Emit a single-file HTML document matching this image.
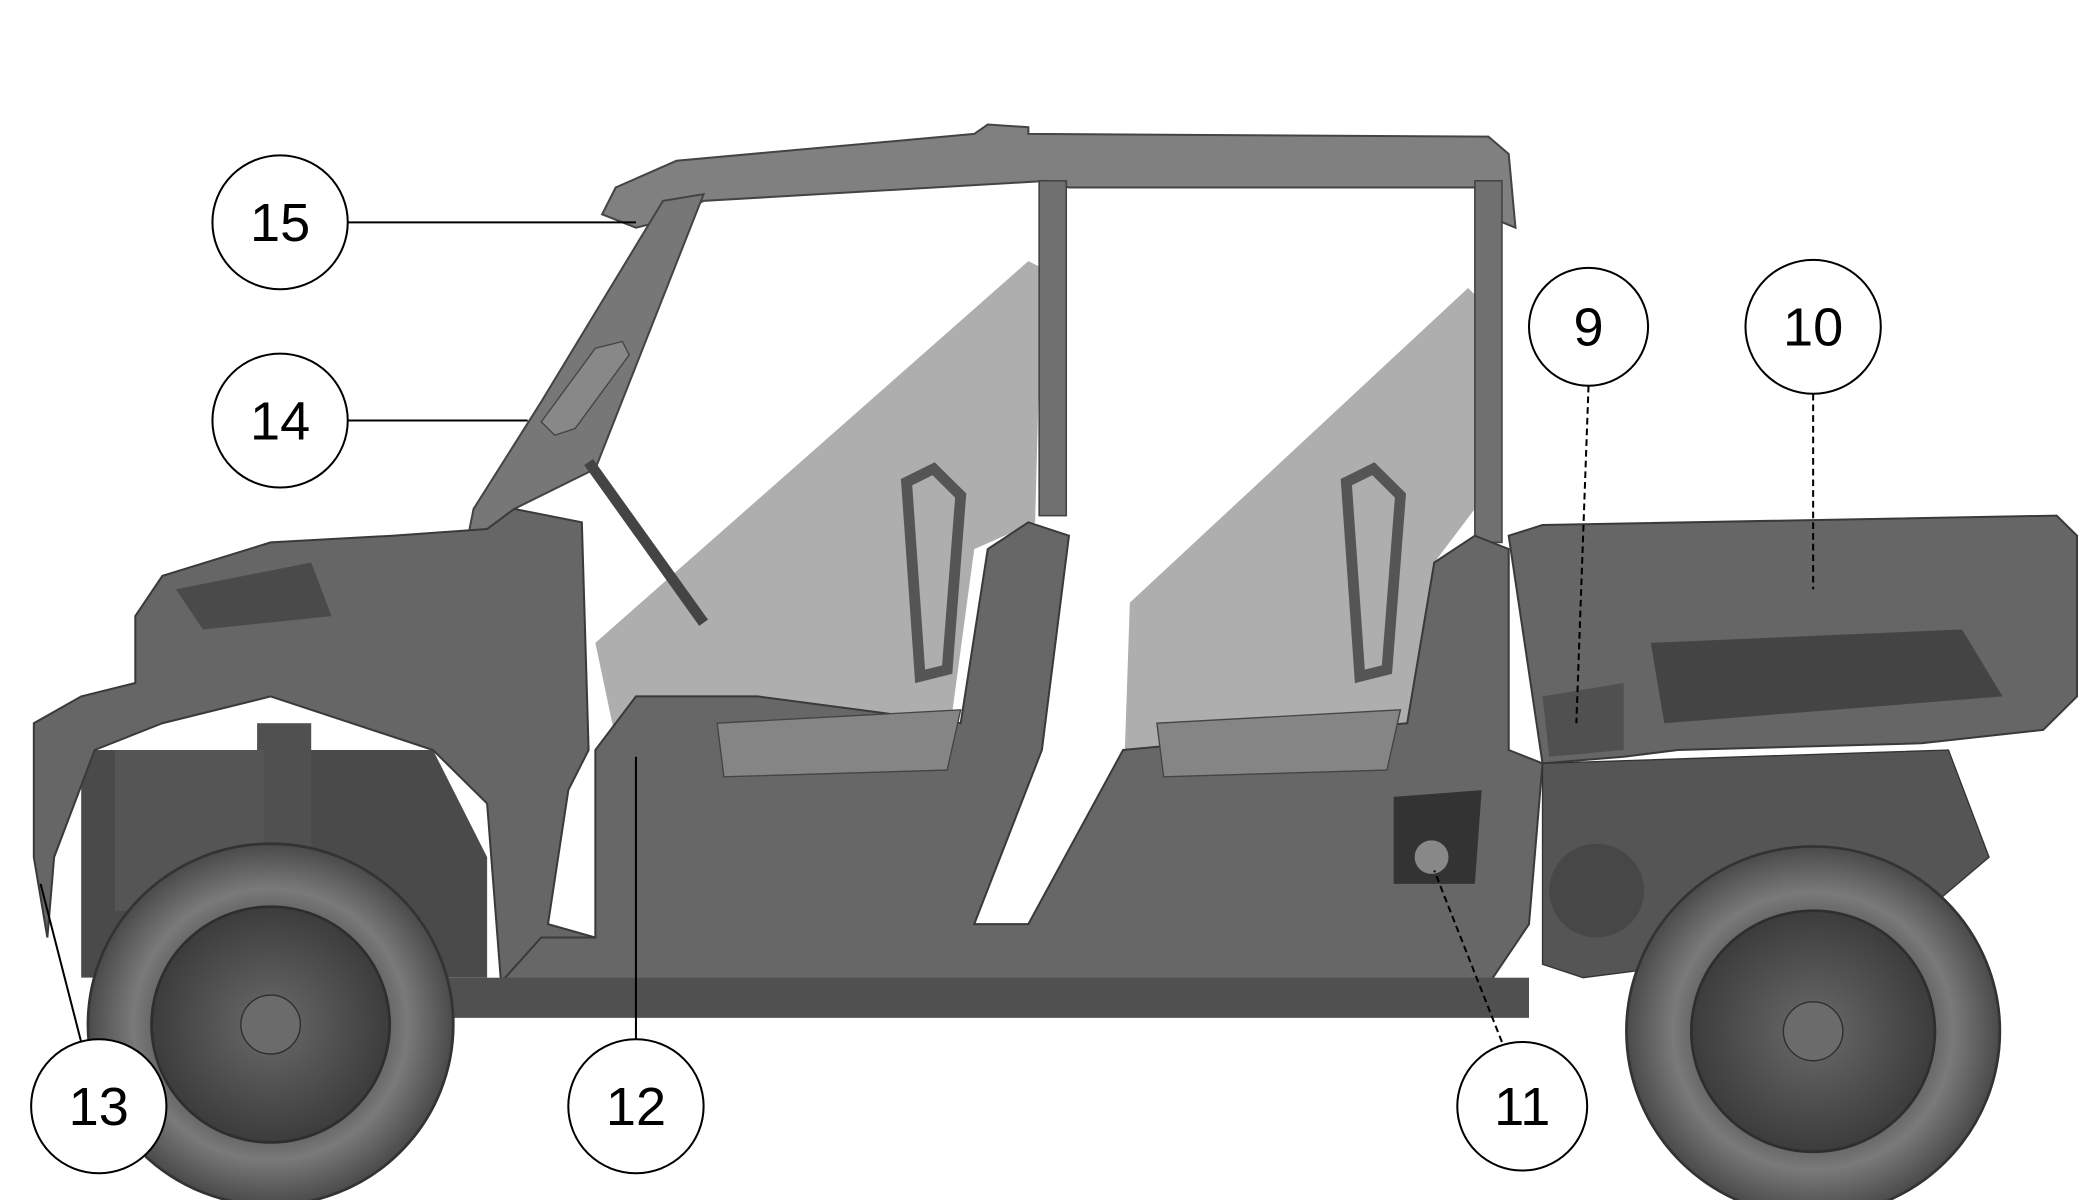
<!DOCTYPE html>
<html><head><meta charset="utf-8"><style>
html,body{margin:0;padding:0;background:#fff;width:2100px;height:1200px;overflow:hidden}
svg{display:block}
text{font-family:"Liberation Sans",sans-serif;font-size:40px;text-anchor:middle;fill:#000}
</style></head><body>
<svg width="2100" height="1200" viewBox="0 0 1552 896" preserveAspectRatio="none">
<defs>
<radialGradient id="tire" cx="50%" cy="50%" r="50%"><stop offset="0.55" stop-color="#555"/><stop offset="0.75" stop-color="#7a7a7a"/><stop offset="1" stop-color="#4a4a4a"/></radialGradient>
<radialGradient id="rim" cx="50%" cy="50%" r="50%"><stop offset="0" stop-color="#6a6a6a"/><stop offset="1" stop-color="#3c3c3c"/></radialGradient>
</defs>
<polygon points="440,480 760,195 770,200 765,390 720,410 700,560 465,600" fill="#9a9a9a" opacity="0.8"/>
<polygon points="835,450 1085,215 1095,225 1090,380 1060,420 1040,560 830,600" fill="#9a9a9a" opacity="0.8"/>
<path d="M445,160 L455,140 L500,120 L720,100 L730,93 L760,95 L760,100 L1100,102 L1115,115 L1120,170 L1108,165 L1100,140 L790,140 L775,135 L520,150 L490,165 L470,170 Z" fill="#808080" stroke="#444" stroke-width="1.5"/>
<path d="M490,150 L520,145 L440,350 L380,380 L365,410 L345,405 L350,380 L400,300 Z" fill="#777" stroke="#444" stroke-width="1.5"/>
<rect x="768" y="135" width="20" height="250" fill="#707070" stroke="#444" stroke-width="1.2"/>
<rect x="1090" y="135" width="20" height="270" fill="#707070" stroke="#444" stroke-width="1.2"/>
<path d="M400,315 L440,260 L460,255 L465,265 L425,320 L410,325 Z" fill="#888" stroke="#444"/>
<!-- wheel wells dark -->
<path d="M60,560 L320,560 L360,640 L360,730 L60,730 Z" fill="#4a4a4a"/>
<path d="M100,460 L120,430 L200,405 L290,400 L360,395 L380,380 L430,390 L435,560 L420,590 L405,690 L440,700 L440,740 L395,745 L370,730 L360,600 L320,560 L200,520 L120,540 L70,560 L40,640 L35,700 L25,640 L25,540 L60,520 L100,510 Z" fill="#666" stroke="#3a3a3a" stroke-width="1.5"/>
<path d="M130,440 L230,420 L245,460 L150,470 Z" fill="#4a4a4a"/>
<path d="M440,560 L470,520 L560,520 L710,540 L730,410 L760,390 L790,400 L770,560 L720,690 L760,690 L830,560 L1040,540 L1060,420 L1090,400 L1115,410 L1115,560 L1140,570 L1130,690 L1100,735 L360,745 L400,700 L440,700 Z" fill="#676767" stroke="#3a3a3a" stroke-width="1.5"/>
<rect x="330" y="730" width="800" height="30" fill="#505050"/>
<path d="M1030,595 L1095,590 L1090,660 L1030,660 Z" fill="#333"/>
<circle cx="1058" cy="640" r="13" fill="#888" stroke="#333"/>
<path d="M530,540 L710,530 L700,575 L535,580 Z" fill="#858585" stroke="#444"/>
<path d="M855,540 L1035,530 L1025,575 L860,580 Z" fill="#858585" stroke="#444"/>
<path d="M670,360 L690,350 L710,370 L700,500 L680,505 Z" fill="none" stroke="#555" stroke-width="8"/>
<path d="M995,360 L1015,350 L1035,370 L1025,500 L1005,505 Z" fill="none" stroke="#555" stroke-width="8"/>
<path d="M435,345 L520,465" stroke="#444" stroke-width="8"/>
<path d="M1115,400 L1140,392 L1520,385 L1535,400 L1535,520 L1510,545 L1420,555 L1240,560 L1200,565 L1140,570 Z" fill="#666" stroke="#3a3a3a" stroke-width="1.5"/>
<path d="M1220,480 L1450,470 L1480,520 L1230,540 Z" fill="#444"/>
<path d="M1140,520 L1200,510 L1200,560 L1145,565 Z" fill="#505050"/>
<path d="M1140,570 L1440,560 L1470,640 L1400,700 L1170,730 L1140,720 Z" fill="#555" stroke="#333"/>
<circle cx="1180" cy="665" r="35" fill="#474747"/>
<rect x="190" y="540" width="40" height="110" fill="#505050"/>
<rect x="85" y="560" width="110" height="120" fill="#555"/>
<circle cx="200" cy="765" r="135" fill="url(#tire)" stroke="#333" stroke-width="2"/>
<circle cx="200" cy="765" r="88" fill="url(#rim)" stroke="#2e2e2e" stroke-width="2"/>
<circle cx="200" cy="765" r="22" fill="#6b6b6b" stroke="#2e2e2e"/>
<circle cx="1340" cy="770" r="138" fill="url(#tire)" stroke="#333" stroke-width="2"/>
<circle cx="1340" cy="770" r="90" fill="url(#rim)" stroke="#2e2e2e" stroke-width="2"/>
<circle cx="1340" cy="770" r="22" fill="#6b6b6b" stroke="#2e2e2e"/>
<g stroke="#000" stroke-width="1.5" fill="none">
<line x1="257" y1="166" x2="470" y2="166"/>
<line x1="257" y1="314" x2="390" y2="314"/>
<line x1="1174" y1="288" x2="1165" y2="540" stroke-dasharray="5,3"/>
<line x1="1340" y1="294" x2="1340" y2="440" stroke-dasharray="5,3"/>
<line x1="60" y1="778" x2="30" y2="660"/>
<line x1="470" y1="778" x2="470" y2="565"/>
<line x1="1110" y1="778" x2="1060" y2="650" stroke-dasharray="5,3"/>
</g>
<g fill="#fff" stroke="#000" stroke-width="1.5">
<circle cx="207" cy="166" r="50"/><circle cx="207" cy="314" r="50"/>
<circle cx="1174" cy="244" r="44"/><circle cx="1340" cy="244" r="50"/>
<circle cx="73" cy="826" r="50"/><circle cx="470" cy="826" r="50"/><circle cx="1125" cy="826" r="48"/>
</g>
<text x="207" y="180">15</text><text x="207" y="328">14</text>
<text x="1174" y="258">9</text><text x="1340" y="258">10</text>
<text x="73" y="840">13</text><text x="470" y="840">12</text><text x="1125" y="840">11</text>
</svg>
</body></html>
